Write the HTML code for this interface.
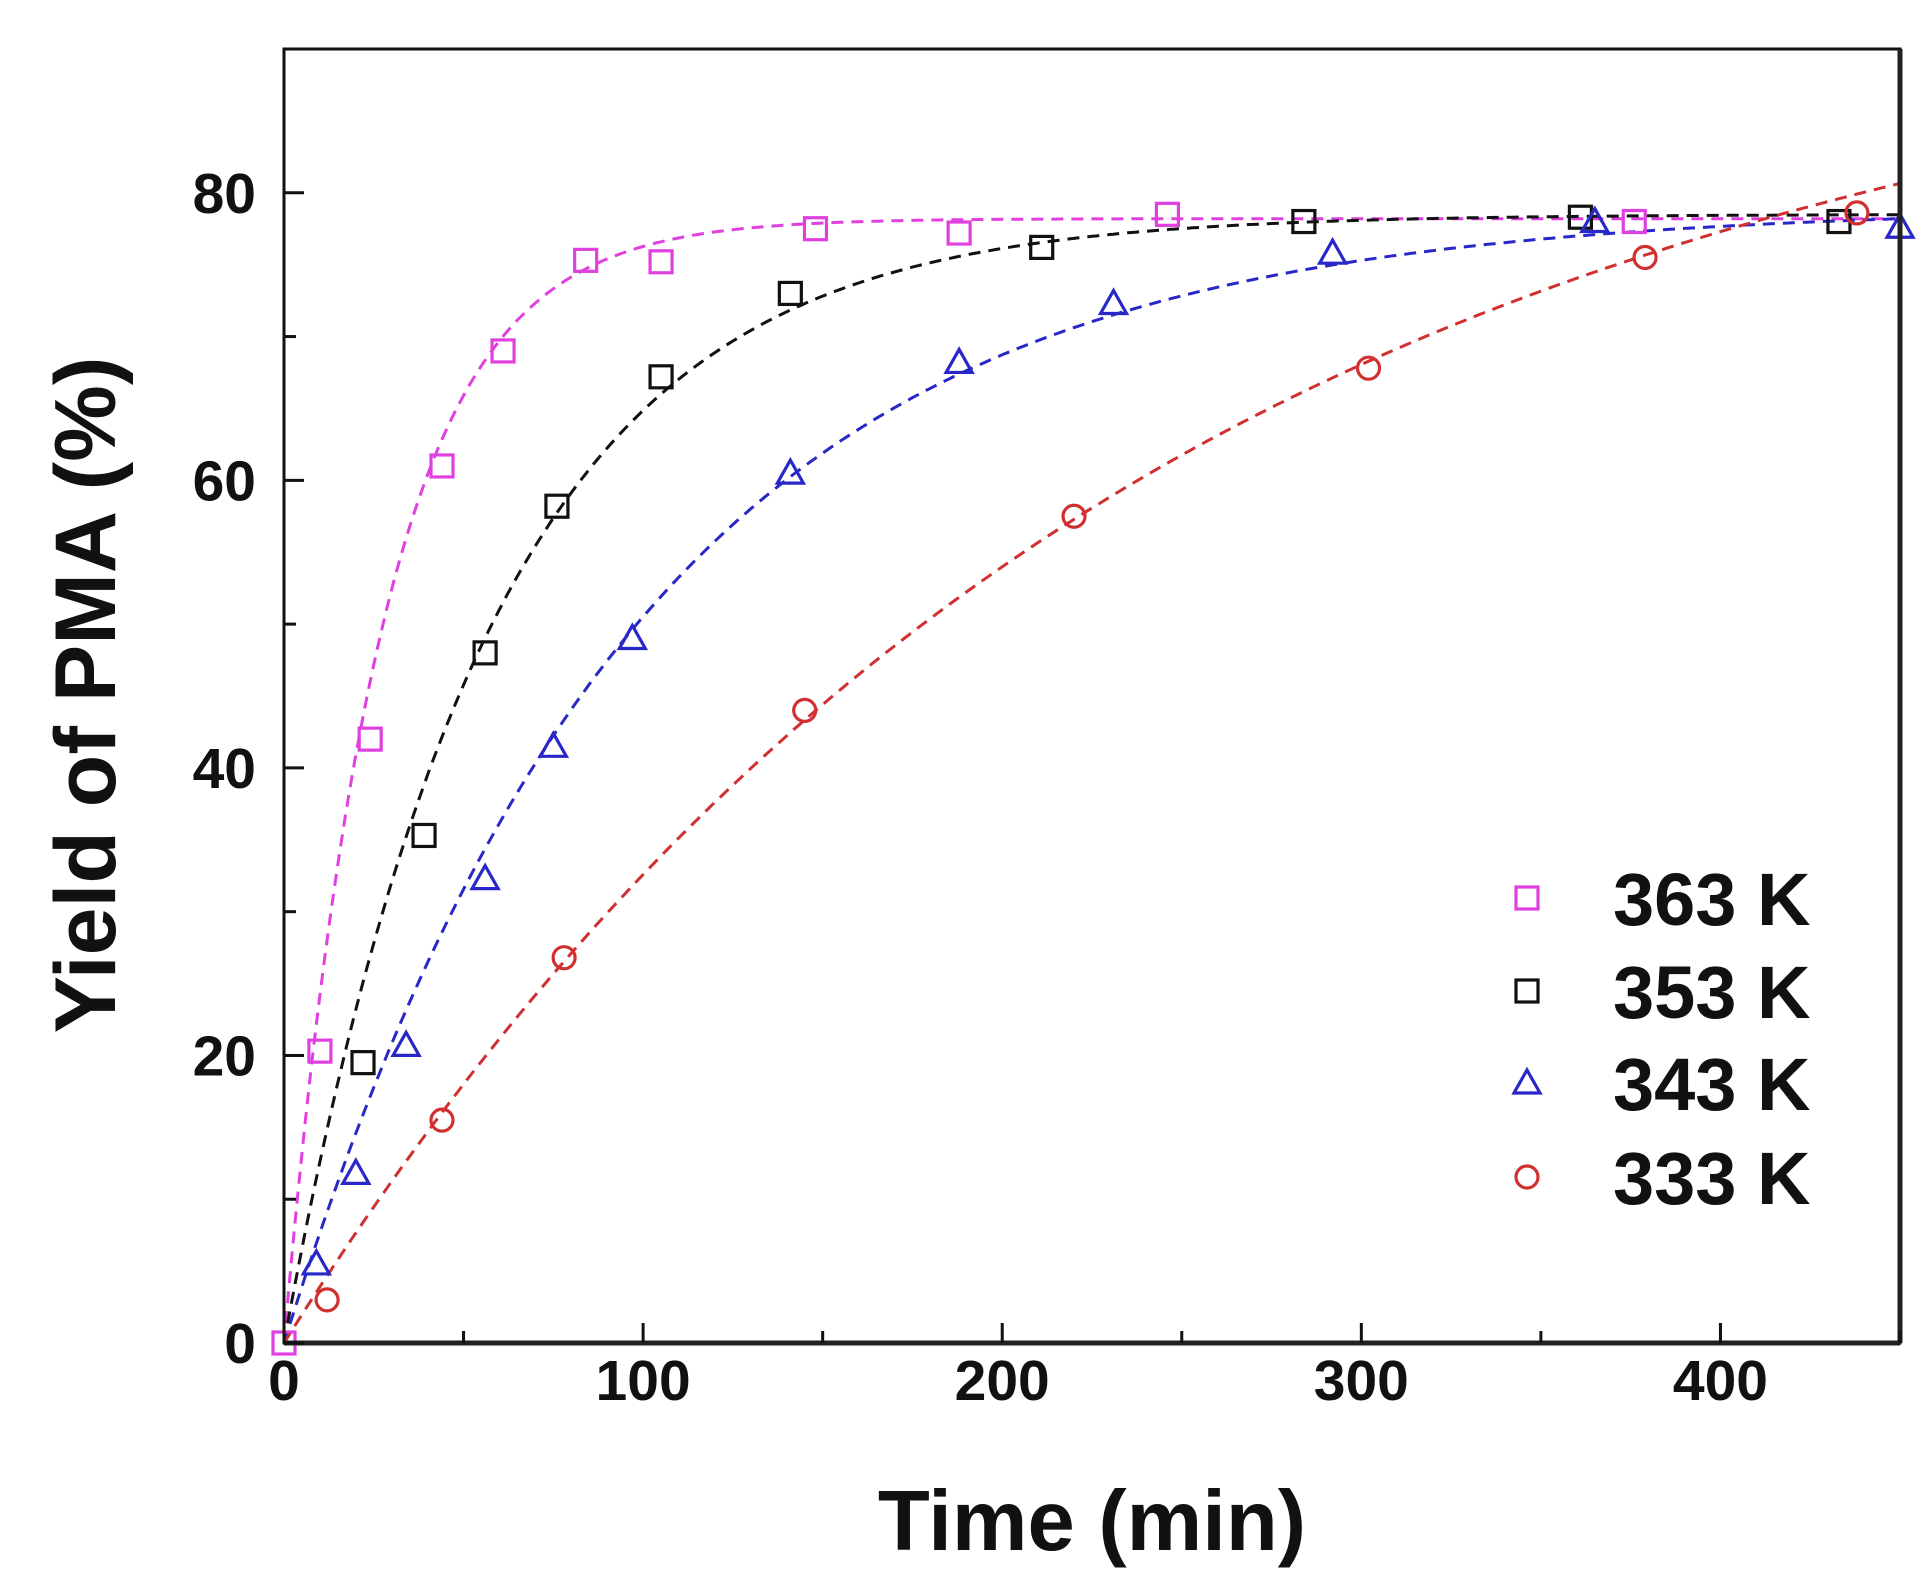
<!DOCTYPE html>
<html><head><meta charset="utf-8"><style>
html,body{margin:0;padding:0;background:#fff;}
svg{display:block;font-family:"Liberation Sans",Arial,sans-serif;font-weight:bold;}
</style></head><body>
<svg id="chart" width="1928" height="1586" viewBox="0 0 1928 1586">
<g id="plot"></g>
</svg>
<script>
const xTicks=[0,100,200,300,400];
const yTicks=[0,20,40,60,80];
const seriesNames=["363 K","353 K","343 K","333 K"];
const seriesColors=["#e040e0","#111111","#2828c8","#d03030"];
const seriesMarkers=["square","square","triangle","circle"];
const t363=[0,10,24,44,61,84,105,148,188,246,376];
const y363=[0,20.3,42,61,69,75.3,75.2,77.5,77.2,78.5,78];
const t353=[22,39,56,76,105,141,211,284,361,433];
const y353=[19.5,35.3,48,58.2,67.2,73,76.2,78,78.3,78];
const t343=[9,20,34,56,75,97,141,188,231,292,365,450];
const y343=[5.5,11.8,20.7,32.3,41.5,49,60.5,68.2,72.3,75.8,78,77.6];
const t333=[12,44,78,145,220,302,379,438];
const y333=[3,15.5,26.8,44,57.5,67.8,75.5,78.6];
const fitA=[78.2,78.5,79,95];
const fitK=[0.037,0.0175,0.0102,0.0042];

const L=284,R=1900,T=49,B=1343,XMAX=450,YMAX=90;
const sx=v=>L+v/XMAX*(R-L);
const sy=v=>B-v/YMAX*(B-T);
const NS="http://www.w3.org/2000/svg";
const svg=document.getElementById('chart');
function mk(tag,attrs,parent){const e=document.createElementNS(NS,tag);for(const k in attrs)e.setAttribute(k,attrs[k]);(parent||svg).appendChild(e);return e;}

const allT=[t363,t353,t343,t333],allY=[y363,y353,y343,y333];
for(let s=0;s<4;s++){
  let d="";
  for(let i=0;i<=450;i++){const t=i;const v=fitA[s]*(1-Math.exp(-fitK[s]*t));d+=(i?"L":"M")+sx(t).toFixed(1)+","+sy(v).toFixed(1);}
  const p=mk('path',{d:d,fill:'none',stroke:seriesColors[s],'stroke-width':3,'stroke-dasharray':'12,8'});
  
  
}
function marker(type,cx,cy,color,name){
  let e;
  if(type==='square')e=mk('rect',{x:cx-11,y:cy-11,width:22,height:22,fill:'none',stroke:color,'stroke-width':3.2});
  else if(type==='triangle')e=mk('path',{d:`M${cx},${cy-13}L${cx+13},${cy+10}L${cx-13},${cy+10}Z`,fill:'none',stroke:color,'stroke-width':3.2});
  else e=mk('circle',{cx:cx,cy:cy,r:11,fill:'none',stroke:color,'stroke-width':3.2});
  
  
}
for(let s=0;s<4;s++){
  for(let i=0;i<allT[s].length;i++){
    marker(seriesMarkers[s],sx(allT[s][i]),sy(allY[s][i]),seriesColors[s],'point-'+seriesNames[s].replace(' ','').toLowerCase());
  }
}
const fr=mk('rect',{x:L,y:T,width:R-L,height:B-T,fill:'none',stroke:'#111','stroke-width':3});

const xa=mk('line',{x1:L,y1:B,x2:R,y2:B,stroke:'#222','stroke-width':5});

const ra=mk('line',{x1:R,y1:T,x2:R,y2:B,stroke:'#222','stroke-width':5});

for(let v=0;v<=450;v+=50){
  const major=v%100===0;
  const tk=mk('line',{x1:sx(v),y1:B,x2:sx(v),y2:B-(major?20:12),stroke:'#111','stroke-width':3});
  
}
for(let v=0;v<=90;v+=10){
  const major=v%20===0;
  const tk=mk('line',{x1:L,y1:sy(v),x2:L+(major?20:12),y2:sy(v),stroke:'#111','stroke-width':3});
  
}
xTicks.forEach(v=>{const t=mk('text',{x:sx(v),y:1400,'text-anchor':'middle','font-size':57,fill:'#111'});t.textContent=v;
  });
yTicks.forEach(v=>{const t=mk('text',{x:256,y:sy(v)+20,'text-anchor':'end','font-size':57,fill:'#111'});t.textContent=v;
  });
const xt=mk('text',{x:1092,y:1550,'text-anchor':'middle','font-size':85,fill:'#111'});xt.textContent='Time (min)';

const yt=mk('text',{x:0,y:0,'text-anchor':'middle','font-size':86,fill:'#111',transform:'translate(115,695) rotate(-90)'});yt.textContent='Yield of PMA (%)';

const ly=[898,991,1083,1177];
for(let s=0;s<4;s++){
  marker(seriesMarkers[s],1527,ly[s],seriesColors[s],'legend-marker');
  const t=mk('text',{x:1613,y:ly[s]+27,'font-size':74,fill:'#111'});t.textContent=seriesNames[s];
  
}
</script>
</body></html>
